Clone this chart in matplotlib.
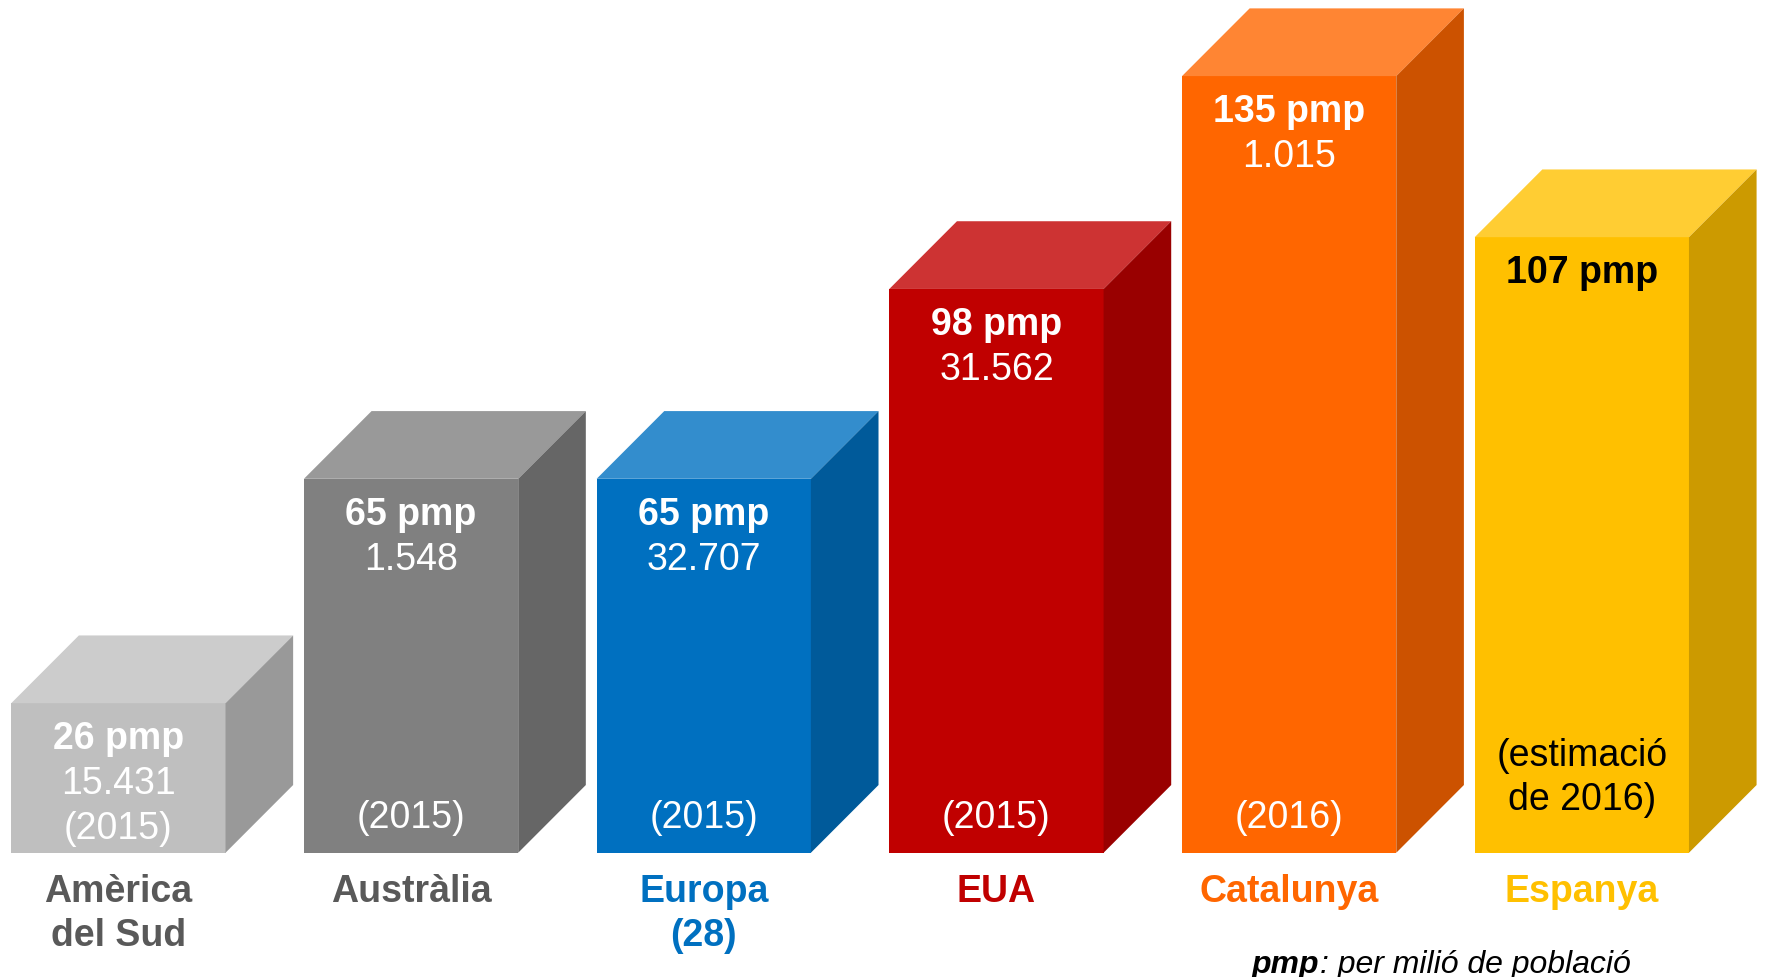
import matplotlib.pyplot as plt
from matplotlib.patches import Polygon

plt.rcParams['font.family'] = ['Liberation Sans', 'DejaVu Sans']

# dades
regions = ['Amèrica\ndel Sud', 'Austràlia', 'Europa\n(28)', 'EUA', 'Catalunya', 'Espanya']
pmp = [26, 65, 65, 98, 135, 107]
patients = ['15.431', '1.548', '32.707', '31.562', '1.015', '']
years = ['(2015)', '(2015)', '(2015)', '(2015)', '(2016)', '(estimació\nde 2016)']

front = ['#BFBFBF', '#808080', '#0070C0', '#C00000', '#FF6600', '#FFC000']
top = ['#CCCCCC', '#999999', '#338DCD', '#CD3333', '#FF8533', '#FFCD33']
side = ['#999999', '#666666', '#005A9A', '#990000', '#CC5200', '#CC9A00']
label_col = ['#595959', '#595959', '#0070C0', '#C00000', '#FF6600', '#FFC000']
text_col = ['white', 'white', 'white', 'white', 'white', 'black']

W, H = 1768, 978
fig = plt.figure(figsize=(W / 100, H / 100), dpi=100)
ax = fig.add_axes([0, 0, 1, 1])
ax.set_xlim(-0.4045, 5.636)
ax.set_ylim(-21.6, 148.4)
ax.axis('off')

width = 0.732
dx, dy = 0.231, 11.77  # profunditat 3D en unitats de dades

x = list(range(len(pmp)))
ax.bar(x, pmp, width=width, color=front, zorder=2)
for i, v in enumerate(pmp):
    l, r = i - width / 2, i + width / 2
    ax.add_patch(Polygon([(l, v), (l + dx, v + dy), (r + dx, v + dy), (r, v)],
                         closed=True, color=top[i], lw=0, zorder=2))
    ax.add_patch(Polygon([(r, 0), (r, v), (r + dx, v + dy), (r + dx, dy)],
                         closed=True, color=side[i], lw=0, zorder=2))

    ax.annotate(f'{v} pmp', (i, v), xytext=(0, -35), textcoords='offset pixels',
                ha='center', va='center', fontsize=27, fontweight='bold', color=text_col[i])
    if patients[i]:
        ax.annotate(patients[i], (i, v), xytext=(0, -80), textcoords='offset pixels',
                    ha='center', va='center', fontsize=27, color=text_col[i])
    # any: a baix de la barra, o sota les altres línies si la barra és baixa
    h_px = ax.transData.transform((0, v))[1] - ax.transData.transform((0, 0))[1]
    if '\n' in years[i]:
        ax.annotate(years[i], (i, 0), xytext=(0, 76), textcoords='offset pixels',
                    ha='center', va='center', fontsize=27, color=text_col[i], linespacing=1.28)
    else:
        ax.annotate(years[i], (i, 0), xytext=(0, min(36, h_px - 125)), textcoords='offset pixels',
                    ha='center', va='center', fontsize=27, color=text_col[i])

    ax.annotate(regions[i], (i, 0), xytext=(0, -20), textcoords='offset pixels',
                ha='center', va='top', fontsize=27, fontweight='bold', color=label_col[i],
                linespacing=1.3)

t = fig.text(1252 / W, 1 - 965 / H, 'pmp', fontsize=23, style='italic', fontweight='bold',
             ha='left', va='center')
ax.annotate(': per milió de població', xy=(1, 0.5), xycoords=t, fontsize=23, style='italic',
            ha='left', va='center')

fig.savefig('out.png', dpi=100, facecolor='white')
